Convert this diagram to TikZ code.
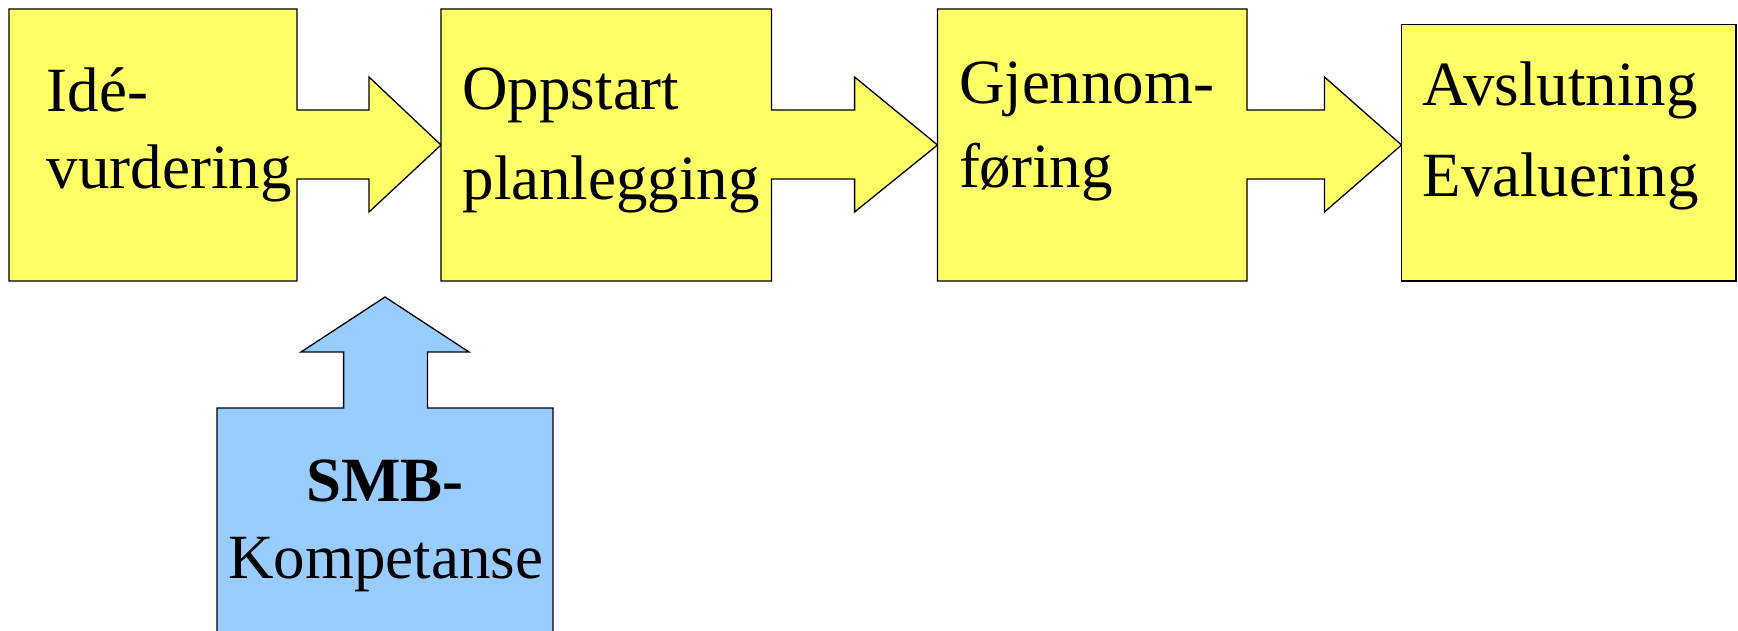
\documentclass[tikz,border=0pt]{standalone}
\usepackage{fontspec}
\setmainfont{Liberation Serif}
\definecolor{phaseyellow}{HTML}{FFFF66}
\definecolor{skillblue}{HTML}{99CCFF}
\tikzset{
  phase/.style={draw=black, fill=phaseyellow, line width=1.3pt, line join=miter},
  skill/.style={draw=black, fill=skillblue, line width=1.3pt, line join=miter},
  lbl/.style={anchor=base west, inner sep=0pt, outer sep=0pt, font=\fontsize{63}{75}\selectfont},
  clbl/.style={anchor=base, inner sep=0pt, outer sep=0pt, font=\fontsize{63}{75}\selectfont}
}
\begin{document}
\begin{tikzpicture}[x=1pt, y=-1pt]
\useasboundingbox (0,0) rectangle (1738,631);
% Phase 1 with arrow
\draw[phase] (9,9) -- (297,9) -- (297,110) -- (369,110) -- (369,77) -- (441,145)
  -- (369,212) -- (369,179) -- (297,179) -- (297,281) -- (9,281) -- cycle;
% Phase 2 with arrow
\draw[phase] (441,9) -- (771.5,9) -- (771.5,110) -- (854.6,110) -- (854.6,77) -- (937.5,145)
  -- (854.6,212) -- (854.6,179) -- (771.5,179) -- (771.5,281) -- (441,281) -- cycle;
% Phase 3 with arrow
\draw[phase] (937.5,9) -- (1247,9) -- (1247,110) -- (1324.5,110) -- (1324.5,77) -- (1401.5,145)
  -- (1324.5,212) -- (1324.5,179) -- (1247,179) -- (1247,281) -- (937.5,281) -- cycle;
% Phase 4
\draw[phase] (1401.5,24.4) rectangle (1736,281);
% SMB competence with up arrow
\draw[skill] (217,640) -- (217,408) -- (343.6,408) -- (343.6,352) -- (301,352) -- (385,297)
  -- (469,352) -- (427.5,352) -- (427.5,408) -- (553,408) -- (553,640);
% Labels
\node[lbl] (p1a) at (46.7,111.7) {Idé-};
\node[lbl] (p1b) at (46.7,189) {vurdering};
\node[lbl] (p2a) at (462.5,110) {Oppstart};
\node[lbl] (p2b) at (462.5,199.5) {planlegging};
\node[lbl] (p3a) at (959,104) {Gjennom-};
\node[lbl] (p3b) at (959,187.3) {føring};
\node[lbl] (p4a) at (1422.5,106) {Avslutning};
\node[lbl] (p4b) at (1422.5,196.7) {Evaluering};
\node[clbl, font=\fontsize{63}{75}\selectfont\bfseries] (s1) at (385,501.7) {SMB-};
\node[clbl] (s2) at (385.5,578.3) {Kompetanse};
\end{tikzpicture}
\end{document}
